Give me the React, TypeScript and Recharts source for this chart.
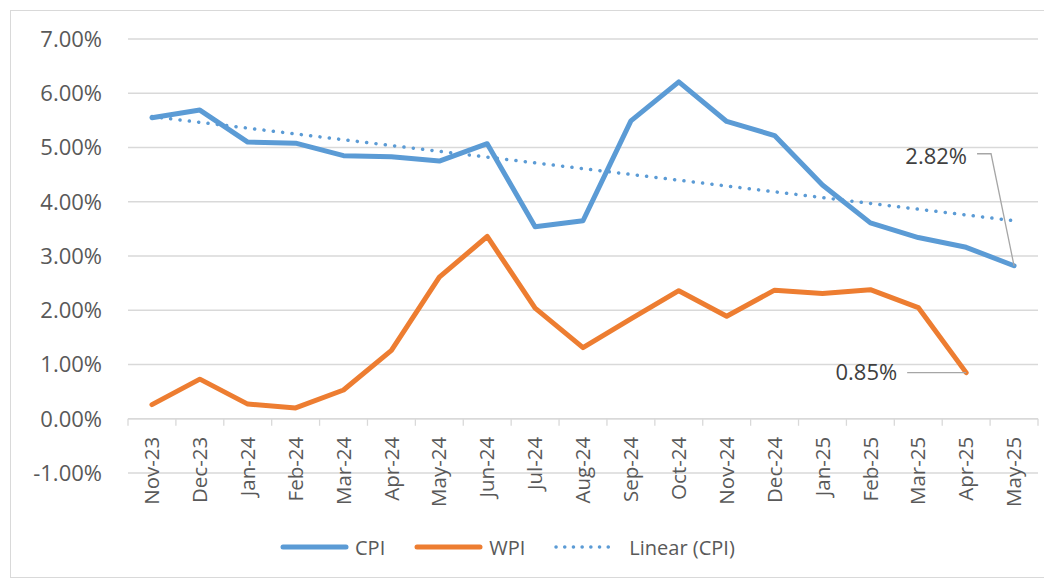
import { LineChart, Line, XAxis, YAxis, CartesianGrid, ReferenceLine, Legend } from "recharts";

const months = [
  "Nov-23", "Dec-23", "Jan-24", "Feb-24", "Mar-24", "Apr-24", "May-24", "Jun-24", "Jul-24", "Aug-24",
  "Sep-24", "Oct-24", "Nov-24", "Dec-24", "Jan-25", "Feb-25", "Mar-25", "Apr-25", "May-25",
];
const cpi = [5.55, 5.69, 5.1, 5.08, 4.85, 4.83, 4.75, 5.07, 3.54, 3.65, 5.49, 6.21, 5.48, 5.22, 4.31, 3.61, 3.34, 3.16, 2.82];
const wpi = [0.26, 0.73, 0.27, 0.2, 0.53, 1.26, 2.61, 3.36, 2.04, 1.31, 1.84, 2.36, 1.89, 2.37, 2.31, 2.38, 2.05, 0.85, null];
// Excel linear trendline for CPI, read at both ends
const cpiTrend = [5.57, null, null, null, null, null, null, null, null, null, null, null, null, null, null, null, null, null, 3.65];
const yTicks = [-1, 0, 1, 2, 3, 4, 5, 6, 7];

const data = months.map((m, i) => ({ month: m, cpi: cpi[i], wpi: wpi[i], trend: cpiTrend[i] }));

const BLUE = "#5b9bd5";
const ORANGE = "#ed7d31";
const GRID = "#d9d9d9";
const TEXT = "#595959";

const W = 1040;
const H = 566;
const MARGIN = { top: 28, right: 13, bottom: 15, left: 0 };
const Y_W = 117;
const X_H = 59;
const LEGEND_H = 30;
const PLOT_H = H - MARGIN.top - MARGIN.bottom - X_H - LEGEND_H;
const PLOT_W = W - MARGIN.left - MARGIN.right - Y_W;
const BAND = PLOT_W / months.length;
const ZERO_UP = (PLOT_H * (0 - yTicks[0])) / (yTicks[yTicks.length - 1] - yTicks[0]);

function MonthTick(props: any) {
  const { x, y, payload, index } = props;
  const y0 = y - ZERO_UP;
  return (
    <g>
      <line x1={x - BAND / 2} x2={x - BAND / 2} y1={y0} y2={y0 + 7} stroke={GRID} strokeWidth={1.3} />
      {index === months.length - 1 && (
        <line x1={x + BAND / 2} x2={x + BAND / 2} y1={y0} y2={y0 + 7} stroke={GRID} strokeWidth={1.3} />
      )}
      <text
        x={x}
        y={y0 + 18}
        dy="0.35em"
        textAnchor="end"
        transform={`rotate(-90, ${x}, ${y0 + 18})`}
        fill={TEXT}
        fontSize={20.5}
      >
        {payload.value}
      </text>
    </g>
  );
}

function CpiLabel(props: any) {
  const { x, y, index, value } = props;
  if (index !== months.length - 1 || value == null) return null;
  return (
    <g>
      <polyline
        points={`${x - 37},${y - 112} ${x - 23},${y - 112} ${x},${y}`}
        fill="none"
        stroke="#a6a6a6"
        strokeWidth={1.3}
      />
      <text x={x - 47} y={y - 109} dy="0.35em" textAnchor="end" fill="#404040" fontSize={22}>
        {value.toFixed(2)}%
      </text>
    </g>
  );
}

function WpiLabel(props: any) {
  const { x, y, index, value } = props;
  if (index !== months.length - 2 || value == null) return null;
  return (
    <g>
      <line x1={x - 59} x2={x} y1={y} y2={y} stroke="#a6a6a6" strokeWidth={1.3} />
      <text x={x - 69} y={y} dy="0.35em" textAnchor="end" fill="#404040" fontSize={22}>
        {value.toFixed(2)}%
      </text>
    </g>
  );
}

function LegendBox() {
  const items = [
    { name: "CPI", color: BLUE, dotted: false },
    { name: "WPI", color: ORANGE, dotted: false },
    { name: "Linear (CPI)", color: BLUE, dotted: true },
  ];
  return (
    <div style={{ display: "flex", alignItems: "center", height: LEGEND_H, paddingLeft: 269 }}>
      {items.map((it) => (
        <div key={it.name} style={{ display: "flex", alignItems: "center", marginRight: 29 }}>
          <svg width={69} height={10}>
            {it.dotted ? (
              <line x1={2} x2={62} y1={5} y2={5} stroke={it.color} strokeWidth={3.5} strokeLinecap="round" strokeDasharray="0.1 8.6" />
            ) : (
              <line x1={3} x2={66} y1={5} y2={5} stroke={it.color} strokeWidth={5} strokeLinecap="round" />
            )}
          </svg>
          <span style={{ marginLeft: 6, fontSize: 20, color: TEXT }}>{it.name}</span>
        </div>
      ))}
    </div>
  );
}

export default function App() {
  return (
    <div style={{ padding: "2px 0 0 2px" }}>
      <div style={{ width: W, height: H, border: `1px solid ${GRID}`, fontFamily: "'Open Sans', sans-serif", background: "#fff" }}>
        <LineChart width={W} height={H} data={data} margin={MARGIN}>
          <CartesianGrid vertical={false} stroke={GRID} strokeWidth={1.3} />
          <XAxis
            dataKey="month"
            height={X_H}
            axisLine={false}
            tickLine={false}
            tickSize={0}
            tickMargin={0}
            interval={0}
            padding={{ left: BAND / 2, right: BAND / 2 }}
            tick={<MonthTick />}
          />
          <YAxis
            width={Y_W}
            domain={[yTicks[0], yTicks[yTicks.length - 1]]}
            ticks={yTicks}
            axisLine={false}
            tickLine={false}
            tickSize={0}
            tickMargin={26}
            tick={{ fill: TEXT, fontSize: 22 }}
            tickFormatter={(v: number) => `${v.toFixed(2)}%`}
          />
          <ReferenceLine y={0} stroke={GRID} strokeWidth={1.3} />
          <Legend verticalAlign="bottom" height={LEGEND_H} content={() => <LegendBox />} />
          <Line
            dataKey="trend"
            stroke={BLUE}
            strokeWidth={3.5}
            strokeLinecap="round"
            strokeDasharray="0.1 9.3"
            dot={false}
            connectNulls
            isAnimationActive={false}
            legendType="none"
          />
          <Line
            dataKey="cpi"
            stroke={BLUE}
            strokeWidth={5}
            strokeLinejoin="round"
            strokeLinecap="round"
            dot={false}
            isAnimationActive={false}
            label={CpiLabel}
          />
          <Line
            dataKey="wpi"
            stroke={ORANGE}
            strokeWidth={5}
            strokeLinejoin="round"
            strokeLinecap="round"
            dot={false}
            isAnimationActive={false}
            label={WpiLabel}
          />
        </LineChart>
      </div>
    </div>
  );
}
